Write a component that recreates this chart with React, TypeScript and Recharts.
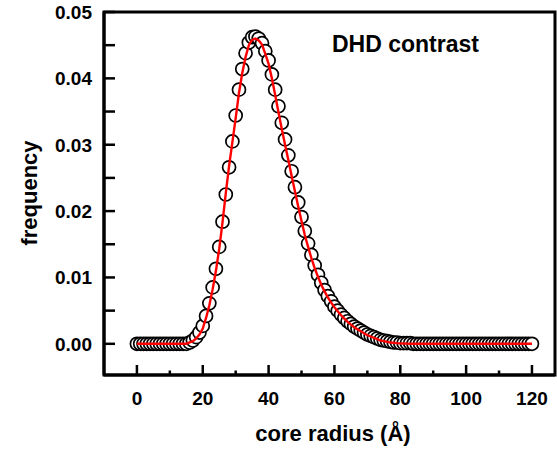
import React from 'react';
import { ComposedChart, Scatter, XAxis, YAxis, ReferenceArea } from 'recharts';

const radius = [
  0, 1, 2, 3, 4, 5, 6, 7, 8, 9, 10, 11, 12, 13, 14, 15, 16, 17, 18, 19,
  20, 21, 22, 23, 24, 25, 26, 27, 28, 29, 30, 31, 32, 33, 34, 35, 36, 37, 38, 39,
  40, 41, 42, 43, 44, 45, 46, 47, 48, 49, 50, 51, 52, 53, 54, 55, 56, 57, 58, 59,
  60, 61, 62, 63, 64, 65, 66, 67, 68, 69, 70, 71, 72, 73, 74, 75, 76, 77, 78, 79,
  80, 81, 82, 83, 84, 85, 86, 87, 88, 89, 90, 91, 92, 93, 94, 95, 96, 97, 98, 99,
  100, 101, 102, 103, 104, 105, 106, 107, 108, 109, 110, 111, 112, 113, 114, 115, 116, 117, 118, 119,
  120,
];

const frequency = [
  0, 0, 0, 0, 0, 0, 0, 0, 0, 0, 0, 0, 0, 0, 0, 0, 0.0002, 0.0005, 0.001, 0.0017,
  0.0027, 0.0042, 0.0061, 0.0085, 0.0113, 0.0146, 0.0184, 0.0225, 0.0266, 0.0305,
  0.0344, 0.0383, 0.0414, 0.0438, 0.0454, 0.0462, 0.0463, 0.046, 0.0453, 0.0441,
  0.0427, 0.0406, 0.0383, 0.0358, 0.0333, 0.0308, 0.0284, 0.026, 0.0236, 0.0213,
  0.0191, 0.017, 0.0151, 0.0134, 0.0118, 0.0104, 0.0092, 0.0081, 0.0072, 0.0064,
  0.0056, 0.005, 0.0044, 0.0039, 0.0034, 0.003, 0.0026, 0.0023, 0.002, 0.0017,
  0.0014, 0.0012, 0.001, 0.0008, 0.0006, 0.0005, 0.0004, 0.0003, 0.0002, 0.0002,
  0.0001, 0.0001, 0.0001, 0.0001, 0, 0, 0, 0, 0, 0,
  0, 0, 0, 0, 0, 0, 0, 0, 0, 0,
  0, 0, 0, 0, 0, 0, 0, 0, 0, 0,
  0, 0, 0, 0, 0, 0, 0, 0, 0, 0,
  0,
];

const fit = [
  0, 0, 0, 0, 0, 0, 0, 0, 0, 0, 0, 0, 0, 0, 0, 0, 0.0002, 0.0004, 0.0008, 0.0014,
  0.0023, 0.0039, 0.0058, 0.0082, 0.011, 0.0143, 0.0183, 0.0227, 0.0268, 0.0304,
  0.034, 0.0378, 0.0408, 0.0432, 0.045, 0.0458, 0.046, 0.0457, 0.0451, 0.0437,
  0.0422, 0.04, 0.0375, 0.0349, 0.0324, 0.03, 0.0277, 0.0253, 0.023, 0.0207,
  0.0185, 0.0164, 0.0146, 0.0129, 0.0114, 0.0101, 0.0089, 0.0079, 0.007, 0.0062,
  0.0055, 0.0049, 0.0043, 0.0038, 0.0033, 0.0029, 0.0025, 0.0022, 0.0019, 0.0016,
  0.0013, 0.0011, 0.0009, 0.0007, 0.0005, 0.0004, 0.0003, 0.0002, 0.00015, 0.0001,
  0.00007, 0.00005, 0.00003, 0.00002, 0.00001, 0, 0, 0, 0, 0,
  0, 0, 0, 0, 0, 0, 0, 0, 0, 0,
  0, 0, 0, 0, 0, 0, 0, 0, 0, 0,
  0, 0, 0, 0, 0, 0, 0, 0, 0, 0,
  0,
];

const xTicks = [0, 10, 20, 30, 40, 50, 60, 70, 80, 90, 100, 110, 120];
const xLabelled = [0, 20, 40, 60, 80, 100, 120];
const yTicks = [0, 0.005, 0.01, 0.015, 0.02, 0.025, 0.03, 0.035, 0.04, 0.045, 0.05];
const yLabelled = ['0.00', '0.01', '0.02', '0.03', '0.04', '0.05'];

const data = radius.map((r, i) => ({ r, frequency: frequency[i], fit: fit[i] }));

const X_DOMAIN: [number, number] = [-10, 127];
const Y_DOMAIN: [number, number] = [-0.0047, 0.05];

const FONT = '"Liberation Sans", Arial, Helvetica, sans-serif';

const XTick = (props: any) => {
  const { x, y, payload } = props;
  const v = payload.value;
  const major = xLabelled.indexOf(v) >= 0;
  return (
    <g>
      <line x1={x} x2={x} y1={y} y2={y - (major ? 10 : 4.5)} stroke="#000" strokeWidth={2.5} />
      {major && (
        <text x={x} y={y + 30} textAnchor="middle" fontSize={19} fontWeight="bold" fontFamily={FONT} fill="#000">
          {v}
        </text>
      )}
    </g>
  );
};

const YTick = (props: any) => {
  const { x, y, payload } = props;
  const v = payload.value as number;
  const label = v.toFixed(2);
  const major = Math.abs(Math.round(v * 100) - v * 100) < 1e-6 && yLabelled.indexOf(label) >= 0;
  return (
    <g>
      <line x1={x} x2={x + 11} y1={y} y2={y} stroke="#000" strokeWidth={2.5} />
      {major && (
        <text x={x - 12} y={y} dy="0.36em" textAnchor="end" fontSize={19} fontWeight="bold" fontFamily={FONT} fill="#000">
          {label}
        </text>
      )}
    </g>
  );
};

const Ring = (props: any) => {
  const { cx, cy } = props;
  if (cx == null || cy == null) return <g />;
  return <circle cx={cx} cy={cy} r={6.5} fill="#fff" stroke="#000" strokeWidth={1.7} />;
};

const NoDot = () => <g />;

export default function App() {
  return (
    <div style={{ position: 'absolute', left: 0, top: 0, width: 557, height: 455, background: '#fff' }}>
      <ComposedChart width={557} height={455} data={data} margin={{ top: 12, right: 2, left: 0, bottom: 0 }}>
        <XAxis
          dataKey="r"
          type="number"
          domain={X_DOMAIN}
          ticks={xTicks}
          interval={0}
          height={80}
          tickSize={0}
          tickMargin={0}
          tickLine={false}
          tick={<XTick />}
          axisLine={{ stroke: '#000', strokeWidth: 3 }}
          allowDataOverflow
        />
        <YAxis
          type="number"
          domain={Y_DOMAIN}
          ticks={yTicks}
          interval={0}
          width={104}
          tickSize={0}
          tickMargin={0}
          tickLine={false}
          tick={<YTick />}
          axisLine={{ stroke: '#000', strokeWidth: 3 }}
          allowDataOverflow
        />
        <ReferenceArea
          x1={X_DOMAIN[0]}
          x2={X_DOMAIN[1]}
          y1={Y_DOMAIN[0]}
          y2={Y_DOMAIN[1]}
          fill="none"
          fillOpacity={0}
          stroke="#000"
          strokeWidth={3}
          ifOverflow="visible"
        />
        <Scatter dataKey="frequency" shape={<Ring />} isAnimationActive={false} />
        <Scatter
          dataKey="fit"
          shape={<NoDot />}
          line={{ stroke: '#ff0000', strokeWidth: 2.4 }}
          lineType="joint"
          isAnimationActive={false}
        />
        <text x={332} y={52} fontSize={23} fontWeight="bold" fontFamily={FONT} fill="#000">
          DHD contrast
        </text>
        <text x={333} y={441} textAnchor="middle" fontSize={22} fontWeight="bold" fontFamily={FONT} fill="#000">
          core radius (Å)
        </text>
        <text
          x={37}
          y={193}
          textAnchor="middle"
          fontSize={22}
          fontWeight="bold"
          fontFamily={FONT}
          fill="#000"
          transform="rotate(-90, 37, 193)"
        >
          frequency
        </text>
      </ComposedChart>
    </div>
  );
}
